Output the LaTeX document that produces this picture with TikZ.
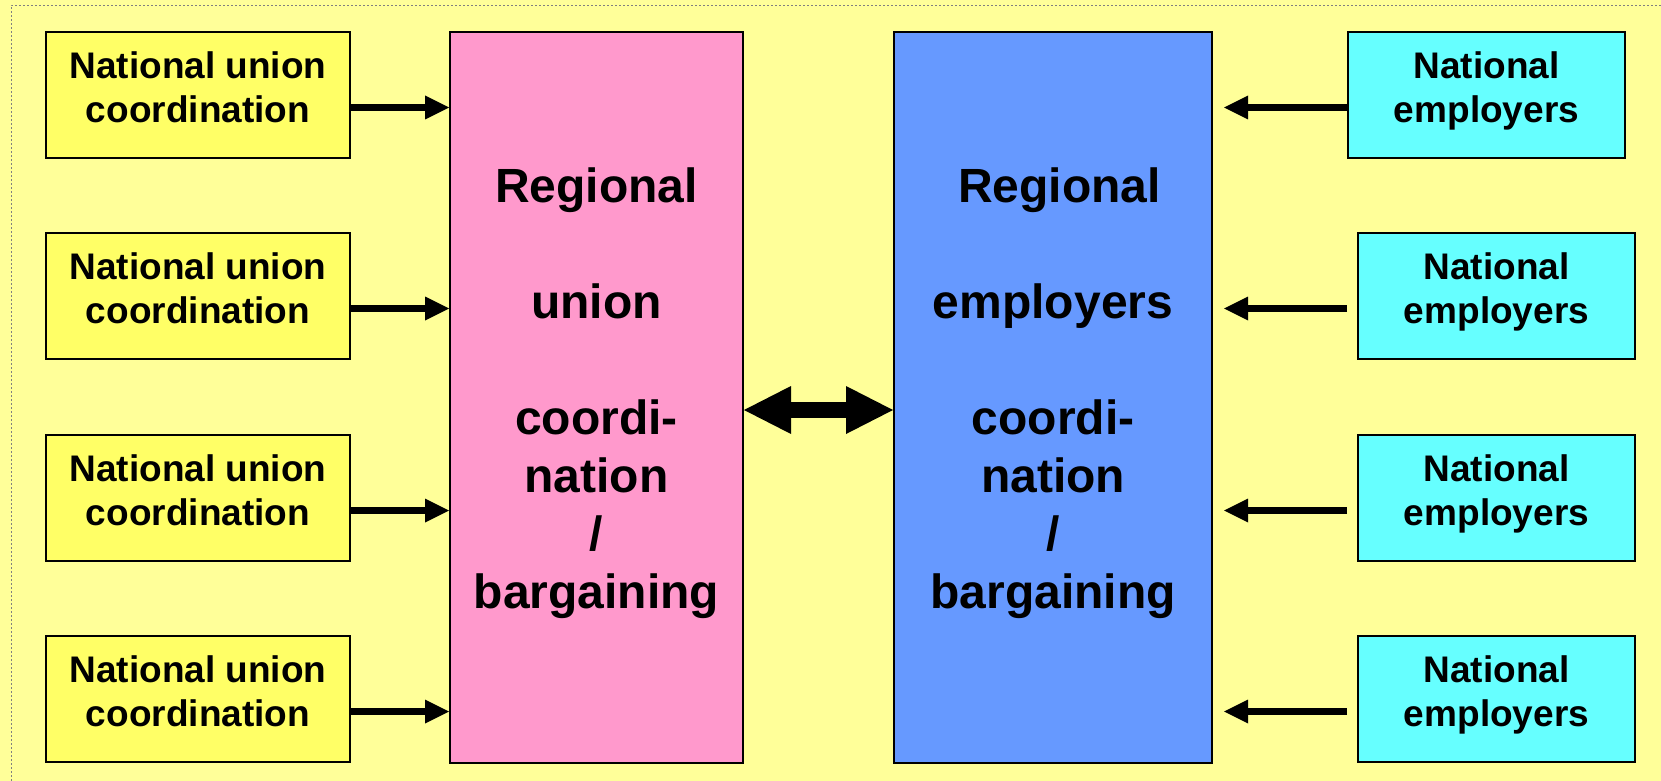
\documentclass[tikz,border=0pt]{standalone}
\usepackage{fontspec}
\setmainfont{Liberation Sans}
\usetikzlibrary{arrows.meta,calc}
\definecolor{bgyellow}{HTML}{FFFF99}
\definecolor{unionyellow}{HTML}{FFFF66}
\definecolor{regpink}{HTML}{FF99CC}
\definecolor{regblue}{HTML}{6699FF}
\definecolor{empcyan}{HTML}{66FFFF}
\begin{document}
\begin{tikzpicture}[x=1pt,y=-1pt,
  box/.style={draw=black,line width=2pt,anchor=north west,inner sep=0pt},
  smallbox/.style={box,minimum width=304pt,minimum height=126pt},
  cyanbox/.style={box,fill=empcyan,minimum width=277pt,minimum height=126pt},
  unionbox/.style={smallbox,fill=unionyellow},
  smalltext/.style={anchor=north,inner sep=0pt,align=center,font=\fontsize{37}{44}\selectfont\bfseries},
  bigtext/.style={anchor=north,inner sep=0pt,align=center,font=\fontsize{48}{58}\selectfont\bfseries},
  feed/.style={line width=7.5pt,-{Triangle[length=24pt,width=24pt,line width=0pt]}},
  mutual/.style={line width=16pt,{Triangle[length=47pt,width=48pt,line width=0pt]}-{Triangle[length=47pt,width=48pt,line width=0pt]}}
]
\useasboundingbox (0,0) rectangle (1661,781);
\fill[bgyellow] (0,0) rectangle (1661,781);
\draw[gray,line width=0.8pt,dash pattern=on 2pt off 2pt] (11,781) -- (11,5) -- (1661,5);

% regional boxes
\node[box,fill=regpink,minimum width=293pt,minimum height=731pt] (pink) at (449,31) {};
\node[box,fill=regblue,minimum width=318pt,minimum height=731pt] (blue) at (893,31) {};
\node[bigtext] (pinkt) at ($(pink.north)+(0,137)$) {Regional\\[58pt]union\\[58pt]coordi-\\nation\\/\\bargaining};
\node[bigtext] (bluet) at ($(blue.north)+(0,137)$) {\hspace*{13pt}Regional\\[58pt]employers\\[58pt]coordi-\\nation\\/\\bargaining};

% national union boxes
\foreach \i/\yy in {1/31,2/232,3/434,4/635}{
  \node[unionbox] (u\i) at (45,\yy) {};
  \node[smalltext] (u\i t) at ($(u\i.north)+(0,20)$) {National union\\coordination};
  \coordinate (ua\i) at ($(u\i.east)+(0,12.5)$);
  \coordinate (ub\i) at (pink.west |- ua\i);
  \draw[feed] (ua\i) -- (ub\i);
}

% national employers boxes
\node[cyanbox] (e1) at (1347,31) {};
\node[cyanbox] (e2) at (1357,232) {};
\node[cyanbox] (e3) at (1357,434) {};
\node[cyanbox] (e4) at (1357,635) {};
\foreach \i in {1,2,3,4}{
  \node[smalltext] (e\i t) at ($(e\i.north)+(0,20)$) {National\\employers};
  \coordinate (ea\i) at ($(e1.west |- e\i.center)+(0,12.5)$);
  \coordinate (eb\i) at ($(blue.east |- ea\i)+(11,0)$);
  \draw[feed] (ea\i) -- (eb\i);
}

% mutual arrow
\coordinate (ma) at ($(pink.east)+(0,12.5)$);
\coordinate (mb) at (blue.west |- ma);
\draw[mutual] (ma) -- (mb);
\end{tikzpicture}
\end{document}
